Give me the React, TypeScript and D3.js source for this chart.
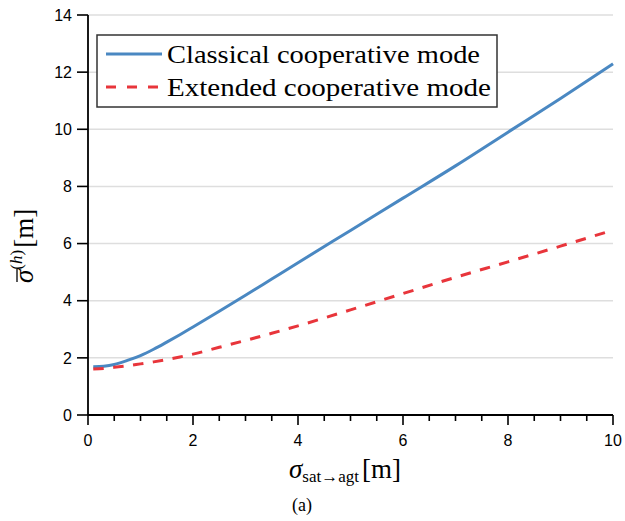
import * as d3 from 'd3'

const xs = [0.1, 0.3, 0.5, 0.75, 1, 1.25, 1.5, 1.75, 2, 2.5, 3, 3.5, 4, 5, 6, 7, 8, 9, 10]
const classical = [1.69, 1.71, 1.77, 1.91, 2.08, 2.3, 2.55, 2.81, 3.08, 3.63, 4.19, 4.76, 5.33, 6.46, 7.59, 8.72, 9.9, 11.08, 12.29]
const extended = [1.61, 1.63, 1.67, 1.72, 1.79, 1.86, 1.94, 2.03, 2.13, 2.37, 2.61, 2.86, 3.12, 3.68, 4.25, 4.82, 5.36, 5.91, 6.47]
const xTicks = [0, 2, 4, 6, 8, 10]
const xMinor = d3.range(0, 10.01, 0.5)
const yTicks = [0, 2, 4, 6, 8, 10, 12, 14]
const legendLabels = ['Classical cooperative mode', 'Extended cooperative mode']

const W = 625
const H = 521
const margin = { top: 15, right: 12, bottom: 106, left: 88 }

const BLUE = '#4a88c2'
const RED = '#e8353b'
const serif = 'Liberation Serif, DejaVu Serif, serif'
const sans = 'Liberation Sans, Arial, sans-serif'

const App = () => {
    const x = d3.scaleLinear().domain([0, 10]).range([margin.left, W - margin.right])
    const y = d3.scaleLinear().domain([0, 14]).range([H - margin.bottom, margin.top])

    const line = d3
        .line<number>()
        .x((_, i) => x(xs[i]))
        .y(d => y(d))
        .curve(d3.curveMonotoneX)

    const x0 = x(0)
    const y0 = y(0)

    return (
        <div style={{ position: 'fixed', left: 0, top: 0 }}>
            <svg width={W} height={H} style={{ display: 'block', background: '#fff' }}>
                {/* grid */}
                {yTicks.slice(1).map(t => (
                    <line
                        key={'g' + t}
                        x1={x0}
                        x2={x(10)}
                        y1={y(t)}
                        y2={y(t)}
                        stroke='#dedede'
                        strokeWidth={1.5}
                    />
                ))}

                {/* curves */}
                <path d={line(classical) || ''} fill='none' stroke={BLUE} strokeWidth={3} />
                <path
                    d={line(extended) || ''}
                    fill='none'
                    stroke={RED}
                    strokeWidth={3}
                    strokeDasharray='10.5,9.5'
                />

                {/* axes */}
                <line x1={x0} x2={x0} y1={y(14)} y2={y0} stroke='#000' strokeWidth={1.8} />
                <line x1={x0} x2={x(10)} y1={y0} y2={y0} stroke='#000' strokeWidth={1.8} />
                {xMinor.map(t => {
                    const major = Math.abs(t - Math.round(t / 2) * 2) < 1e-6
                    return (
                        <line
                            key={'xt' + t}
                            x1={x(t)}
                            x2={x(t)}
                            y1={y0}
                            y2={y0 + (major ? 10 : 6)}
                            stroke='#000'
                            strokeWidth={1.6}
                        />
                    )
                })}
                {xTicks.map(t => (
                    <text
                        key={'xl' + t}
                        x={x(t)}
                        y={y0 + 31}
                        textAnchor='middle'
                        style={{ fontFamily: sans }}
                        fontSize={16}
                    >
                        {t}
                    </text>
                ))}
                {yTicks.map(t => (
                    <g key={'yt' + t}>
                        <line x1={x0 - 11} x2={x0} y1={y(t)} y2={y(t)} stroke='#000' strokeWidth={1.6} />
                        <text
                            x={x0 - 16}
                            y={y(t)}
                            dy='0.36em'
                            textAnchor='end'
                            style={{ fontFamily: sans }}
                            fontSize={16}
                        >
                            {t}
                        </text>
                    </g>
                ))}

                {/* x label */}
                <text x={289} y={478} style={{ fontFamily: serif }} fontSize={27}>
                    <tspan fontStyle='italic'>σ</tspan>
                    <tspan fontSize={17} dy={4}>sat→agt</tspan>
                    <tspan dy={-4} dx={3}>[m]</tspan>
                </text>

                {/* y label */}
                <g transform='translate(33, 232) rotate(-90)'>
                    <text x={-51} y={0} style={{ fontFamily: serif }} fontSize={27}>
                        <tspan fontStyle='italic'>σ</tspan>
                        <tspan fontSize={17} dy={-11}>(</tspan>
                        <tspan fontSize={17} fontStyle='italic'>h</tspan>
                        <tspan fontSize={17}>)</tspan>
                        <tspan dy={11} dx={2}>[m]</tspan>
                    </text>
                    <line x1={-50} x2={-37} y1={-16} y2={-16} stroke='#000' strokeWidth={1.3} />
                </g>

                {/* caption */}
                <text x={302} y={511} textAnchor='middle' style={{ fontFamily: serif }} fontSize={18}>
                    (a)
                </text>

                {/* legend */}
                <g>
                    <rect x={97} y={35} width={400} height={72} fill='#fff' stroke='#333' strokeWidth={1.5} />
                    {legendLabels.map((label, i) => (
                        <g key={label}>
                            <line
                                x1={106}
                                x2={162}
                                y1={54 + i * 33}
                                y2={54 + i * 33}
                                stroke={i === 0 ? BLUE : RED}
                                strokeWidth={3}
                                strokeDasharray={i === 0 ? undefined : '10,11'}
                            />
                            <text
                                x={167}
                                y={54 + i * 33}
                                dy='0.33em'
                                style={{ fontFamily: serif }}
                                fontSize={26}
                                textLength={i === 0 ? 313 : 324}
                                lengthAdjust='spacingAndGlyphs'
                            >
                                {label}
                            </text>
                        </g>
                    ))}
                </g>
            </svg>
        </div>
    )
}

export default App
